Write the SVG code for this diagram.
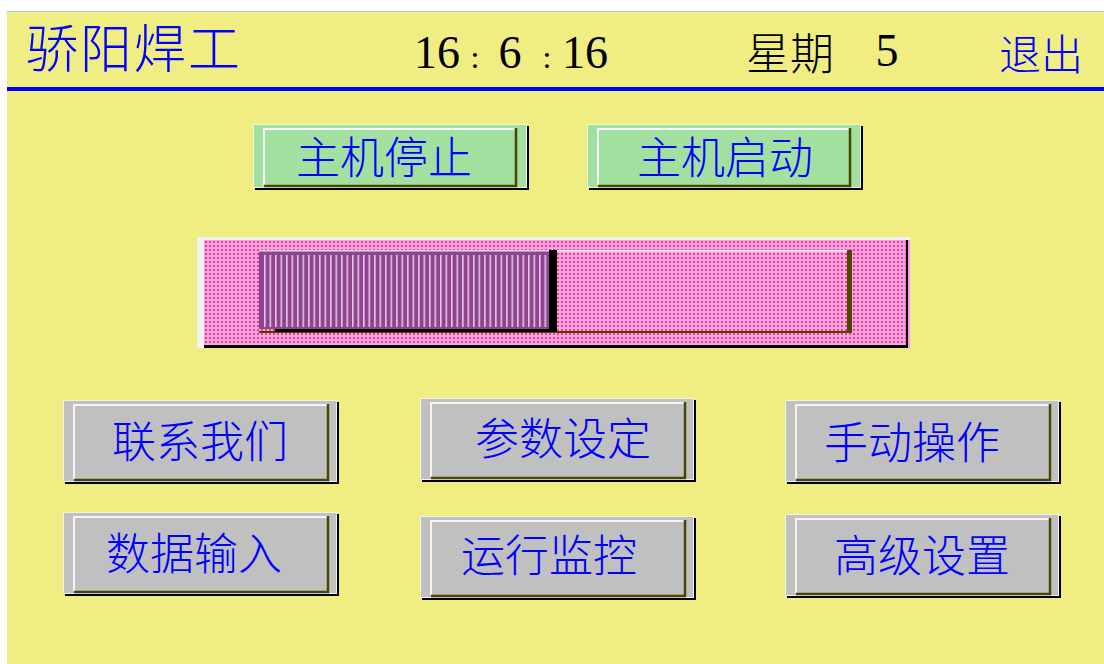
<svg xmlns="http://www.w3.org/2000/svg" xmlns:xlink="http://www.w3.org/1999/xlink" width="1104" height="664" viewBox="0 0 1104 664">
<style>
.cjk{font-family:"Noto Sans CJK SC","Noto Sans CJK JP",sans-serif;font-weight:300;fill:#0000ff;text-anchor:middle}
.btn{font-size:44px}
.num{font-family:"Liberation Serif","DejaVu Serif",serif;fill:#000;text-anchor:middle}
</style>
<defs>
<pattern id="dots" patternUnits="userSpaceOnUse" width="4" height="4">
<rect width="4" height="4" fill="#f6a2ee"/>
<rect x="1" y="1" width="2" height="2" fill="#f0406e"/>
</pattern>
<pattern id="stripes" patternUnits="userSpaceOnUse" x="264" y="0" width="5.5" height="10">
<rect width="5.5" height="10" fill="#8e4490"/>
<rect width="1.6" height="10" fill="#e2c4e2"/>
</pattern>
<g id="bevelGreen">
<rect x="2" y="2" width="274" height="64" fill="#000"/>
<rect x="0" y="0" width="274" height="64" fill="#f4f4dc"/>
<rect x="1" y="1" width="272" height="62" fill="#a2e0a0"/>
<polyline points="11,61 11,5 263,5" fill="none" stroke="#f8f8f8" stroke-width="2"/>
<polyline points="11,62 263,62 263,4" fill="none" stroke="#4a4800" stroke-width="2.5"/>
</g>
<g id="bevelGray">
<rect x="2" y="2" width="274" height="82" fill="#000"/>
<rect x="0" y="0" width="274" height="82" fill="#f2f2e8"/>
<rect x="1" y="1" width="272" height="80" fill="#c0c0c0"/>
<polyline points="11,79 11,5 264,5" fill="none" stroke="#f4f4f4" stroke-width="2"/>
<polyline points="11,80 265,80 265,4" fill="none" stroke="#4a4800" stroke-width="2.5"/>
</g>
</defs>
<rect width="1104" height="664" fill="#ffffff"/>
<rect x="7" y="11" width="1097" height="653" fill="#f0ee82"/>
<line x1="7" y1="11.5" x2="1104" y2="11.5" stroke="#a8c4e0" stroke-width="1"/>
<rect x="7" y="87" width="1097" height="4" fill="#0000ff"/>

<g id="header">
<text class="cjk" x="134" y="68" font-size="52" letter-spacing="2">骄阳焊工</text>
<text class="num" x="437" y="68" font-size="46">16</text>
<text class="num" x="475" y="68" font-size="32">:</text>
<text class="num" x="510" y="68" font-size="46">6</text>
<text class="num" x="547" y="68" font-size="32">:</text>
<text class="num" x="585" y="68" font-size="46">16</text>
<text class="cjk" x="790" y="70" font-size="44" style="fill:#000">星期</text>
<text class="num" x="887" y="66" font-size="46">5</text>
<text class="cjk" x="1041" y="70" font-size="42">退出</text>
</g>

<g id="btn-stop">
<use xlink:href="#bevelGreen" x="253" y="124"/>
<text class="cjk btn" x="384" y="174">主机停止</text>
</g>
<g id="btn-start">
<use xlink:href="#bevelGreen" x="587" y="124"/>
<text class="cjk btn" x="725" y="174">主机启动</text>
</g>

<g id="progress">
<rect x="197" y="237" width="713" height="111" fill="#f2f2f2"/>
<rect x="204" y="240" width="704" height="108" fill="#000"/>
<rect x="204" y="240" width="702" height="105" fill="url(#dots)"/>
<rect x="908" y="240" width="2" height="108" fill="#f2a0ee"/>
<rect x="259" y="250" width="593" height="83" fill="#4a4800"/>
<rect x="259" y="251" width="588" height="80" fill="url(#dots)"/>
<rect x="259" y="250" width="588" height="1.5" fill="#f4f4f4"/>
<rect x="549" y="250" width="8" height="82" fill="#000"/>
<rect x="275" y="329" width="282" height="3" fill="#000"/>
<rect x="259" y="251" width="290" height="78" fill="#8e4490"/>
<rect x="262" y="255" width="286" height="72" fill="url(#stripes)"/>
<rect x="259" y="250" width="290" height="1.5" fill="#e8d8e8"/>
</g>

<g id="btn-contact">
<use xlink:href="#bevelGray" x="63" y="400"/>
<text class="cjk btn" x="200" y="458">联系我们</text>
</g>
<g id="btn-params">
<use xlink:href="#bevelGray" x="420" y="398"/>
<text class="cjk btn" x="563" y="455">参数设定</text>
</g>
<g id="btn-manual">
<use xlink:href="#bevelGray" x="785" y="400"/>
<text class="cjk btn" x="912" y="459">手动操作</text>
</g>
<g id="btn-input">
<use xlink:href="#bevelGray" x="63" y="512"/>
<text class="cjk btn" x="194" y="570">数据输入</text>
</g>
<g id="btn-monitor">
<use xlink:href="#bevelGray" x="420" y="516"/>
<text class="cjk btn" x="549" y="572">运行监控</text>
</g>
<g id="btn-advanced">
<use xlink:href="#bevelGray" x="785" y="514"/>
<text class="cjk btn" x="922" y="572">高级设置</text>
</g>
</svg>
